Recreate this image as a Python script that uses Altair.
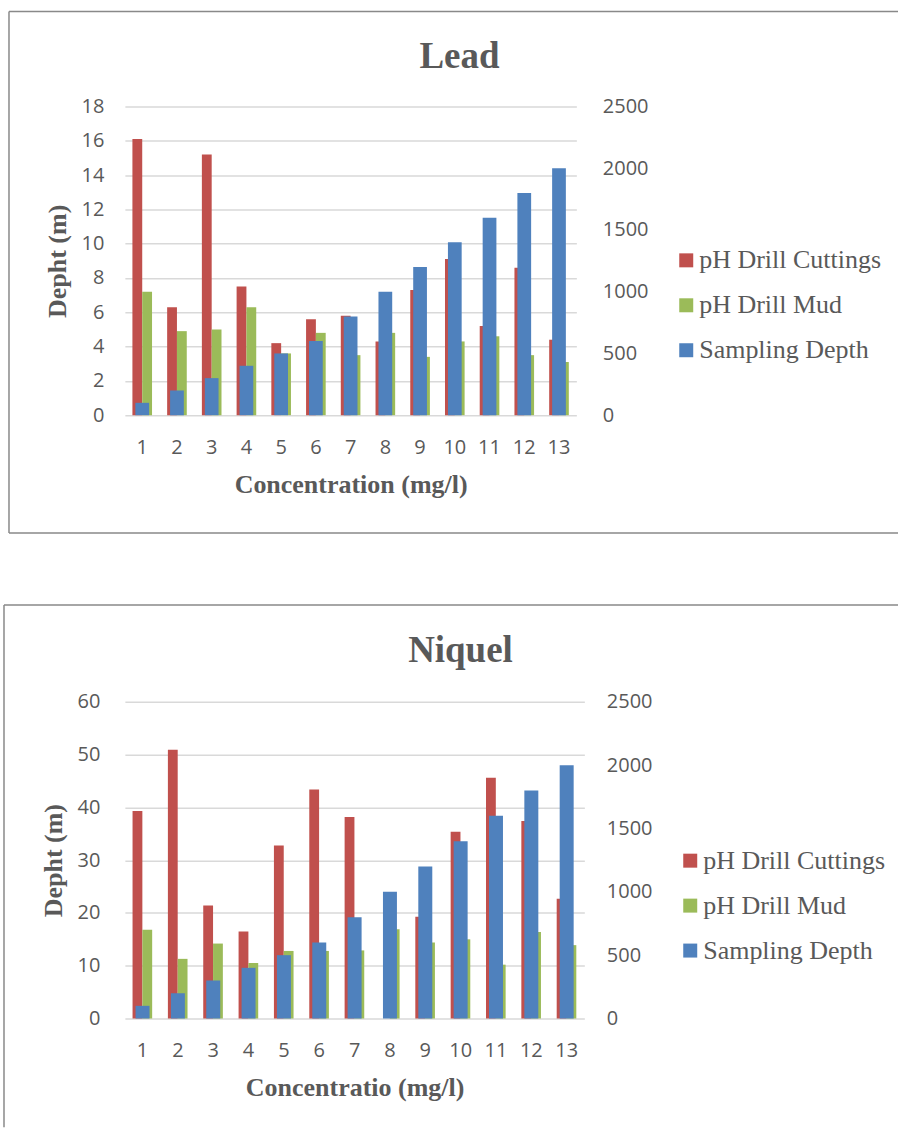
import altair as alt
import pandas as pd

categories = [str(i) for i in range(1, 14)]
series_names = ["pH Drill Cuttings", "pH Drill Mud", "Sampling Depth"]
series_colors = ["#C0504D", "#9BBB59", "#4F81BD"]

sampling_depth = [100, 200, 300, 400, 500, 600, 800, 1000, 1200, 1400, 1600, 1800, 2000]

lead_cuttings = [16.1, 6.3, 15.2, 7.5, 4.2, 5.6, 5.8, 4.3, 7.3, 9.1, 5.2, 8.6, 4.4]
lead_mud = [7.2, 4.9, 5.0, 6.3, 3.6, 4.8, 3.5, 4.8, 3.4, 4.3, 4.6, 3.5, 3.1]

niquel_cuttings = [39.3, 50.9, 21.4, 16.5, 32.8, 43.4, 38.2, None, 19.3, 35.4, 45.6, 37.4, 22.7]
niquel_mud = [16.8, 11.3, 14.2, 10.5, 12.8, 12.8, 12.9, 16.9, 14.4, 15.0, 10.2, 16.4, 13.9]

lead_left_ticks = [0, 2, 4, 6, 8, 10, 12, 14, 16, 18]
niquel_left_ticks = [0, 10, 20, 30, 40, 50, 60]
right_ticks = [0, 500, 1000, 1500, 2000, 2500]

TEXT = "#595959"
SERIF = "Liberation Serif"
SANS = "Open Sans"
FRAME = "#898989"

one = pd.DataFrame({"k": [0]})


def make_panel(title, x_title, cuttings, mud, left_ticks, width, height,
               frame, title_pos, legend_pos, left_pad, right_pad, bottom_line):
    rows = []
    for c, v in zip(categories, cuttings):
        if v is not None:
            rows.append({"cat": c, "series": series_names[0], "value": v})
    for c, v in zip(categories, mud):
        if v is not None:
            rows.append({"cat": c, "series": series_names[1], "value": v})
    ph = pd.DataFrame(rows)
    dep = pd.DataFrame({"cat": categories,
                        "series": [series_names[2]] * len(categories),
                        "value": sampling_depth})

    x_enc = alt.X("cat:N", sort=categories,
                  scale=alt.Scale(paddingInner=0.435, paddingOuter=0.2175),
                  axis=alt.Axis(title=x_title, labelAngle=0, labelPadding=22,
                                titlePadding=14, grid=False))
    color_enc = alt.Color("series:N",
                          scale=alt.Scale(domain=series_names, range=series_colors),
                          legend=alt.Legend(title=None, orient="none",
                                            legendX=legend_pos[0], legendY=legend_pos[1]))

    bars = alt.Chart(ph).mark_bar().encode(
        x=x_enc,
        xOffset=alt.XOffset("series:N",
                            scale=alt.Scale(domain=series_names[:2],
                                            paddingInner=0, paddingOuter=0)),
        y=alt.Y("value:Q",
                scale=alt.Scale(domain=[0, left_ticks[-1]], nice=False),
                axis=alt.Axis(orient="left", values=left_ticks, title="Depht (m)",
                              grid=True, labelPadding=left_pad, titlePadding=11)),
        color=color_enc,
    )
    depth_bars = alt.Chart(dep).mark_bar(width=alt.RelativeBandSize(0.7)).encode(
        x=x_enc,
        y=alt.Y("value:Q",
                scale=alt.Scale(domain=[0, 2500], nice=False),
                axis=alt.Axis(orient="right", values=right_ticks, title=None, format="d",
                              grid=False, labelPadding=right_pad)),
        color=color_enc,
    )

    fx1, fy1, fx2, fy2 = frame
    rule = alt.Chart(one).mark_rule(color=FRAME, strokeWidth=1.5)
    layers = [
        rule.encode(x=alt.value(fx1), x2=alt.value(fx2), y=alt.value(fy1)),
        rule.encode(x=alt.value(fx1), y=alt.value(fy1), y2=alt.value(fy2)),
    ]
    if bottom_line:
        layers.append(rule.encode(x=alt.value(fx1), x2=alt.value(fx2), y=alt.value(fy2)))

    title_text = alt.Chart(one).mark_text(
        text=title, font=SERIF, fontSize=37, fontWeight="bold", color=TEXT,
        align="center", baseline="alphabetic"
    ).encode(x=alt.value(title_pos[0]), y=alt.value(title_pos[1]))

    return alt.layer(*layers, bars, depth_bars, title_text).resolve_scale(
        y="independent"
    ).properties(width=width, height=height)


lead = make_panel("Lead", "Concentration (mg/l)", lead_cuttings, lead_mud,
                  lead_left_ticks, 452, 309,
                  frame=(-116, -95, 774, 427), title_pos=(335, -39),
                  legend_pos=(549, 141), left_pad=21, right_pad=26, bottom_line=True)

niquel = make_panel("Niquel", "Concentratio (mg/l)", niquel_cuttings, niquel_mud,
                    niquel_left_ticks, 460, 317,
                    frame=(-121, -97, 774, 426), title_pos=(336, -40),
                    legend_pos=(553, 146), left_pad=25, right_pad=22, bottom_line=False)

chart = alt.vconcat(lead, niquel, spacing=287, bounds="flush").resolve_scale(
    color="independent"
).resolve_legend(
    color="independent"
).properties(
    padding={"left": 3, "top": 10, "right": 0, "bottom": 0}
).configure_view(
    stroke=None
).configure_axis(
    labelFont=SANS, labelFontSize=20, labelColor=TEXT,
    titleFont=SERIF, titleFontSize=26, titleFontWeight="bold", titleColor=TEXT,
    domain=False, ticks=False, tickSize=0,
    gridColor="#d9d9d9", gridWidth=1.5,
).configure_legend(
    labelFont=SERIF, labelFontSize=26, labelColor=TEXT,
    symbolType="square", symbolSize=196, symbolStrokeWidth=0, symbolOpacity=1,
    rowPadding=19, labelOffset=0, padding=0, labelLimit=400,
)

chart.save("out.html", embed_options={"renderer": "svg", "actions": False})
